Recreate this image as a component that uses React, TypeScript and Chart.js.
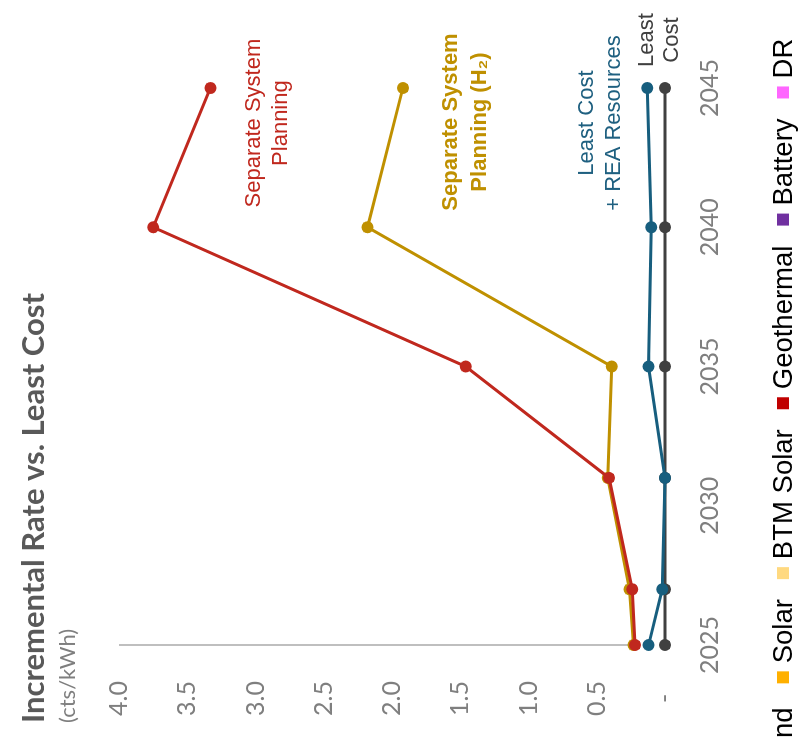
import React, { useEffect, useRef } from "react";
import { Chart, registerables } from "chart.js";

Chart.register(...registerables);

// ---- data ----
const YEARS = [2025, 2027, 2031, 2035, 2040, 2045];
const SEPARATE_SYSTEM = [0.22, 0.24, 0.41, 1.46, 3.75, 3.33];
const SEPARATE_SYSTEM_H2 = [0.23, 0.26, 0.42, 0.39, 2.18, 1.92];
const LEAST_COST_REA = [0.12, 0.02, 0.0, 0.12, 0.1, 0.13];
const LEAST_COST = [0, 0, 0, 0, 0, 0];

const X_TICKS = [2025, 2030, 2035, 2040, 2045];
const Y_TICKS = [0, 0.5, 1, 1.5, 2, 2.5, 3, 3.5, 4];
const Y_TICK_LABELS = ["-", "0.5", "1.0", "1.5", "2.0", "2.5", "3.0", "3.5", "4.0"];

const SERIES_LABELS = [
  ["Separate System", "Planning"],
  ["Separate System", "Planning (H\u2082)"],
  ["Least Cost", "+ REA Resources"],
  ["Least", "Cost"],
];

const LEGEND_LABELS = ["Wind", "Solar", "BTM Solar", "Geothermal", "Battery", "DR"];
const LEGEND_COLORS = ["#2E75B6", "#FFB000", "#FFD980", "#C00000", "#7030A0", "#FF66FF"];

const TITLE = "Incremental Rate vs. Least Cost";
const SUBTITLE = "(cts/kWh)";
const AXIS_LINE_END = 0.22;

// ---- styles ----
const RED = "#C0281E";
const GOLD = "#BF9000";
const BLUE = "#175E7E";
const DARK = "#404040";
const SERIES_TEXT_COLORS = ["#C0281E", "#BF9000", "#1F6080", "#404040"];
const SERIES_TEXT_BOLD = [false, true, false, false];
// annotation anchors in data coordinates: [year (center), value (first baseline)], line gap px
const SERIES_TEXT_ANCHORS = [
  [2043.74, 2.967, 27],
  [2043.78, 1.524, 29],
  [2043.74, 0.527, 27],
  [2046.72, 0.088, 25],
];

const W = 738;
const H = 799;

const decorPlugin = {
  id: "decor",
  beforeDatasetsDraw(chart: any) {
    const ctx = chart.ctx;
    const xs = chart.scales.x;
    const ys = chart.scales.y;
    const x = xs.getPixelForValue(YEARS[0]);
    ctx.save();
    ctx.strokeStyle = "#BFBFBF";
    ctx.lineWidth = 2;
    ctx.beginPath();
    ctx.moveTo(x, ys.getPixelForValue(4));
    ctx.lineTo(x, ys.getPixelForValue(AXIS_LINE_END) - 5);
    ctx.stroke();
    ctx.restore();
  },
  afterDraw(chart: any) {
    const ctx = chart.ctx;
    const xs = chart.scales.x;
    const ys = chart.scales.y;
    ctx.save();
    // title
    ctx.textAlign = "left";
    ctx.textBaseline = "alphabetic";
    ctx.fillStyle = "#595959";
    ctx.font = "bold 31px Lato";
    ctx.fillText(TITLE, 15, 44);
    ctx.fillStyle = "#7F7F7F";
    ctx.font = "22px Lato";
    ctx.fillText(SUBTITLE, 15, 75);

    // series labels
    ctx.textAlign = "center";
    SERIES_LABELS.forEach((lines, i) => {
      const [yr, val, gap] = SERIES_TEXT_ANCHORS[i];
      const cx = xs.getPixelForValue(yr);
      const by = ys.getPixelForValue(val);
      ctx.fillStyle = SERIES_TEXT_COLORS[i];
      ctx.font = (SERIES_TEXT_BOLD[i] ? "bold " : "") + "22px 'Liberation Sans', 'DejaVu Sans'";
      lines.forEach((t, j) => ctx.fillText(t, cx, by + j * gap));
    });

    // legend
    ctx.textAlign = "left";
    ctx.font = "27.5px 'Liberation Sans'";
    let x = -52;
    LEGEND_LABELS.forEach((lab, i) => {
      ctx.fillStyle = LEGEND_COLORS[i];
      ctx.fillRect(x, 777, 12, 12);
      x += 20;
      ctx.fillStyle = "#000000";
      ctx.fillText(lab, x, 792);
      x += ctx.measureText(lab).width + (i === 0 ? 24 : 20);
    });
    ctx.restore();
  },
};

function pts(vals: number[]) {
  return YEARS.map((x, i) => ({ x, y: vals[i] }));
}

function ds(label: string, vals: number[], color: string, order: number) {
  return {
    label,
    data: pts(vals),
    borderColor: color,
    backgroundColor: color,
    pointBackgroundColor: color,
    pointBorderColor: color,
    borderWidth: 3,
    pointRadius: 6,
    pointBorderWidth: 0,
    tension: 0,
    order,
    clip: false,
  };
}

export default function App() {
  const ref = useRef<HTMLCanvasElement>(null);
  useEffect(() => {
    const chart = new Chart(ref.current as HTMLCanvasElement, {
      type: "line",
      data: {
        datasets: [
          ds("Separate System Planning", SEPARATE_SYSTEM, RED, 0),
          ds("Separate System Planning (H2)", SEPARATE_SYSTEM_H2, GOLD, 1),
          ds("Least Cost + REA Resources", LEAST_COST_REA, BLUE, 2),
          ds("Least Cost", LEAST_COST, DARK, 3),
        ] as any,
      },
      options: {
        responsive: false,
        animation: false,
        devicePixelRatio: 1,
        layout: { padding: { top: 119, right: 88, left: 0, bottom: 0 } },
        plugins: {
          legend: { display: false },
          tooltip: { enabled: false },
          title: { display: false },
        },
        scales: {
          x: {
            type: "linear",
            min: 2025,
            max: 2045,
            grid: { display: false, drawTicks: false },
            border: { display: false },
            afterBuildTicks: (s: any) => {
              s.ticks = X_TICKS.map((v) => ({ value: v }));
            },
            afterFit: (s: any) => {
              s.height = 134;
            },
            ticks: {
              callback: (v: any) => String(v),
              font: { family: "Lato", size: 25 },
              color: "#7F7F7F",
              padding: 30,
              maxRotation: 0,
              autoSkip: false,
            },
          },
          y: {
            min: 0,
            max: 4,
            grid: { display: false, drawTicks: false },
            border: { display: false },
            afterBuildTicks: (s: any) => {
              s.ticks = Y_TICKS.map((v) => ({ value: v }));
            },
            afterFit: (s: any) => {
              s.width = 93;
            },
            ticks: {
              callback: (v: any) => Y_TICK_LABELS[Y_TICKS.indexOf(Number(v))],
              crossAlign: "center",
              font: { family: "Lato", size: 25 },
              color: "#7F7F7F",
              padding: 36,
              autoSkip: false,
            },
          },
        } as any,
      },
      plugins: [decorPlugin],
    });
    return () => chart.destroy();
  }, []);

  return (
    <div
      style={{
        position: "absolute",
        left: 0,
        top: 0,
        width: 799,
        height: 738,
        overflow: "hidden",
        background: "#ffffff",
      }}
    >
      <div
        style={{
          position: "absolute",
          left: 0,
          top: 0,
          width: W,
          height: H,
          transformOrigin: "0 0",
          transform: "translateY(738px) rotate(-90deg)",
        }}
      >
        <canvas ref={ref} width={W} height={H} style={{ display: "block", width: W, height: H }} />
      </div>
    </div>
  );
}
